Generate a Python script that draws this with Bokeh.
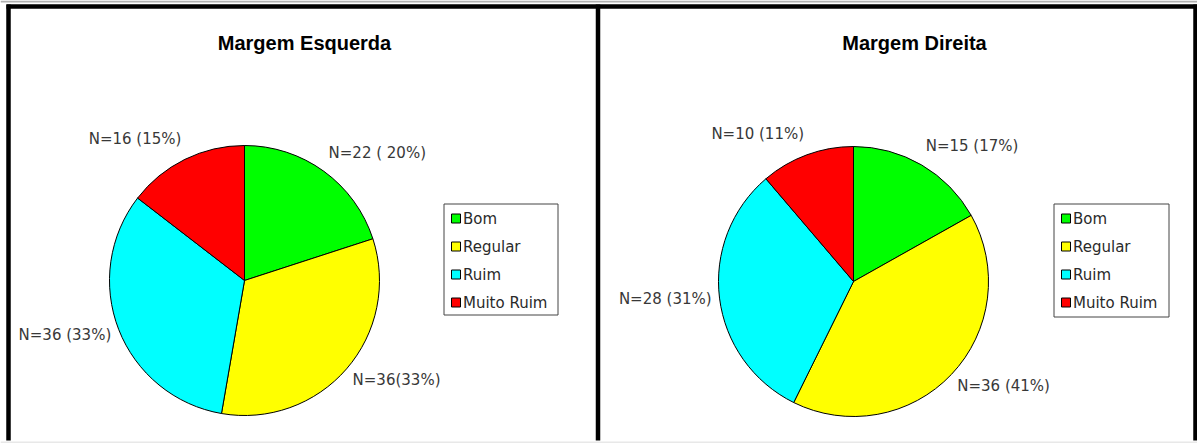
import numpy as np
from bokeh.plotting import figure
from bokeh.models import Range1d
from bokeh.embed import file_html
from bokeh.resources import INLINE
from bokeh.core.properties import value

categories = ["Bom", "Regular", "Ruim", "Muito Ruim"]
colors = ["#00FF00", "#FFFF00", "#00FFFF", "#FF0000"]

left_title = "Margem Esquerda"
left_counts = [22, 36, 36, 16]
left_labels = ["N=22 ( 20%)", "N=36(33%)", "N=36 (33%)", "N=16 (15%)"]

right_title = "Margem Direita"
right_counts = [15, 36, 28, 10]
right_labels = ["N=15 (17%)", "N=36 (41%)", "N=28 (31%)", "N=10 (11%)"]

W, H = 1197, 443
p = figure(width=W, height=H, x_range=Range1d(0, W),
           y_range=Range1d(0, H),
           output_backend="svg", toolbar_location=None, min_border=0)
p.axis.visible = False
p.grid.visible = False
p.outline_line_color = None
p.background_fill_color = "white"


def Y(yref):
    return 443 - yref


LABEL_FONT = value("DejaVu Sans")


def draw_panel(cx, cy, r, counts, labels, title, title_x, legend_box):
    counts = np.asarray(counts, dtype=float)
    frac = counts / counts.sum()
    cum = np.concatenate([[0.0], np.cumsum(frac)])
    start = np.pi / 2 - 2 * np.pi * cum[:-1]
    end = np.pi / 2 - 2 * np.pi * cum[1:]
    p.wedge(x=cx, y=Y(cy), radius=r, start_angle=start, end_angle=end,
            direction="clock", fill_color=colors, line_color="black",
            line_width=1)
    # labels, placed outside each slice at its mid angle
    mid = 2 * np.pi * (cum[:-1] + cum[1:]) / 2  # clockwise from top
    lx = cx + (r + 8) * np.sin(mid)
    ly = cy - (r + 20) * np.cos(mid) - 2
    right_side = np.sin(mid) >= 0
    lab = np.array(labels)
    p.text(x=lx[right_side], y=[Y(v) for v in ly[right_side]],
           text=list(lab[right_side]), text_font=LABEL_FONT,
           text_font_size="15px", text_align="left", text_baseline="middle",
           text_color="#383838")
    p.text(x=lx[~right_side], y=[Y(v) for v in ly[~right_side]],
           text=list(lab[~right_side]), text_font=LABEL_FONT,
           text_font_size="15px", text_align="right", text_baseline="middle",
           text_color="#383838")
    # title
    p.text(x=[title_x], y=[Y(42)], text=[title],
           text_font=value("Liberation Sans"), text_font_style="bold",
           text_font_size="20px", text_align="center",
           text_baseline="middle", text_color="black")
    # legend
    bx0, by0, bx1, by1 = legend_box
    p.quad(left=bx0, right=bx1, top=Y(by0), bottom=Y(by1),
           fill_color="white", line_color="#444444", line_width=1)
    ys = [by0 + 14.5 + 28 * i for i in range(len(categories))]
    p.rect(x=bx0 + 12, y=[Y(v) for v in ys], width=9, height=9,
           fill_color=colors, line_color="black", line_width=1)
    p.text(x=bx0 + 19, y=[Y(v) for v in ys], text=categories,
           text_font=LABEL_FONT, text_font_size="15px", text_align="left",
           text_baseline="middle", text_color="#2a2a2a")


draw_panel(244, 280, 135, left_counts, left_labels, left_title, 304,
           (443.5, 203.5, 557.5, 314.5))
draw_panel(853, 281, 135, right_counts, right_labels, right_title, 914,
           (1053.5, 203.5, 1168.5, 316.5))

# thin grey edges of the original screenshot
p.multi_line(xs=[[0, 1197], [0, 1197]], ys=[[Y(1), Y(1)], [Y(442), Y(442)]],
             line_color=["#b0b0b0", "#e8e8e8"], line_width=2)

# panel borders
p.multi_line(xs=[[8, 8], [6, 1197], [597.5, 597.5], [1195, 1195]],
             ys=[[Y(4), Y(440)], [Y(6), Y(6)], [Y(4), Y(440)], [Y(4), Y(440)]],
             line_color="black", line_width=4.5)

open("out.html", "w").write(file_html(p, INLINE))
